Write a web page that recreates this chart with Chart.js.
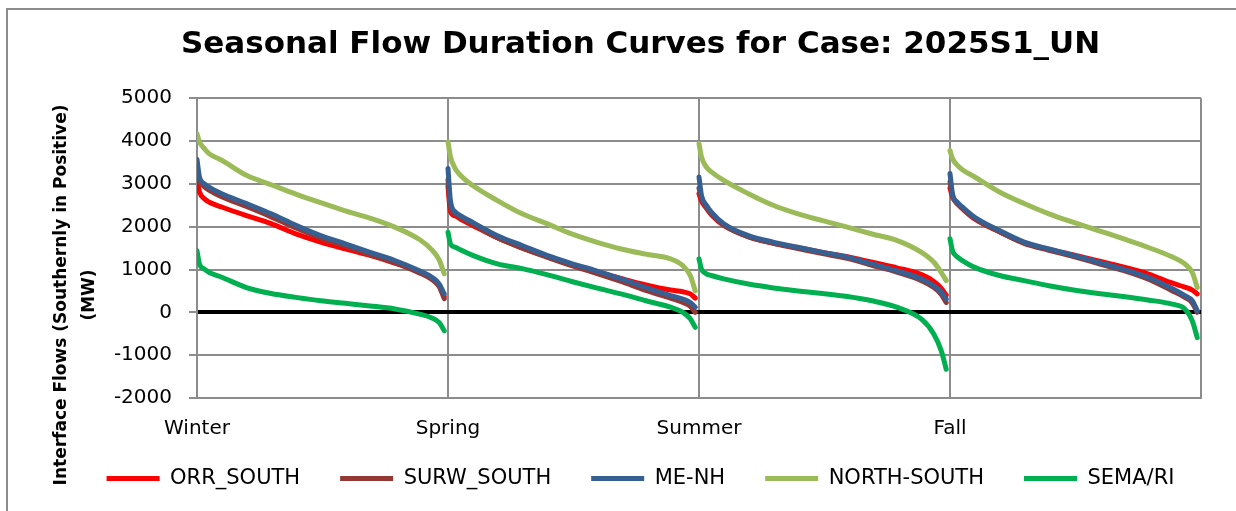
<!DOCTYPE html>
<html>

<head>
    <title>Seasonal Flow Duration Curves</title>
    <style>
        body {
            margin: 0;
            background: #fff;
        }

        #wrap {
            width: 1236px;
            height: 511px;
        }
    </style>
</head>

<body>
    <div id="wrap">
        <canvas id="flowChart" width="1236" height="511"></canvas>
    </div>

    <script src="https://cdn.jsdelivr.net/npm/chart.js"></script>
    <script>
        // season blocks on the x axis, each one is a duration curve
        var seasons = ['Winter', 'Spring', 'Summer', 'Fall'];
        // % of hours in the season (duration) where the values below were read
        var durationPct = [0, 1, 3, 5, 10, 20, 30, 40, 50, 60, 70, 80, 90, 95, 98, 100];
        var yTicks = [-2000, -1000, 0, 1000, 2000, 3000, 4000, 5000];

        // MW, one row per season (Winter, Spring, Summer, Fall)
        var orrSouth = [
            [3080, 2810, 2650, 2570, 2460, 2260, 2070, 1830, 1640, 1480, 1330, 1150, 940, 770, 610, 370],
            [2950, 2350, 2250, 2180, 2030, 1740, 1510, 1300, 1110, 950, 790, 640, 520, 480, 430, 330],
            [2770, 2600, 2430, 2280, 2030, 1770, 1620, 1510, 1400, 1300, 1170, 1040, 880, 720, 560, 400],
            [2900, 2700, 2530, 2420, 2180, 1880, 1620, 1470, 1340, 1200, 1060, 900, 680, 590, 520, 430]
        ];
        var surwSouth = [
            [3150, 3050, 2930, 2850, 2700, 2470, 2230, 1970, 1740, 1550, 1350, 1160, 920, 770, 600, 320],
            [3100, 2450, 2300, 2220, 2060, 1740, 1500, 1290, 1090, 910, 720, 510, 330, 230, 140, 0],
            [2900, 2680, 2450, 2300, 2040, 1760, 1610, 1490, 1370, 1260, 1100, 940, 740, 580, 420, 230],
            [3050, 2720, 2540, 2430, 2190, 1880, 1610, 1450, 1300, 1140, 980, 780, 500, 350, 220, 0]
        ];
        var meNh = [
            [3570, 3160, 3000, 2920, 2770, 2540, 2300, 2030, 1790, 1600, 1400, 1210, 970, 820, 660, 430],
            [3360, 2600, 2340, 2260, 2100, 1790, 1560, 1330, 1140, 970, 780, 580, 390, 310, 230, 120],
            [3160, 2730, 2500, 2340, 2070, 1790, 1640, 1520, 1400, 1290, 1130, 970, 780, 620, 470, 310],
            [3240, 2770, 2570, 2460, 2220, 1910, 1640, 1480, 1330, 1170, 1010, 820, 550, 390, 270, 40]
        ];
        var northSouth = [
            [4170, 3980, 3820, 3700, 3550, 3200, 2980, 2760, 2560, 2370, 2200, 1990, 1700, 1460, 1220, 900],
            [3980, 3630, 3350, 3200, 2960, 2610, 2300, 2070, 1830, 1640, 1480, 1360, 1250, 1090, 860, 500],
            [3940, 3630, 3390, 3280, 3080, 2770, 2500, 2300, 2140, 1990, 1830, 1680, 1400, 1170, 930, 740],
            [3780, 3590, 3430, 3330, 3160, 2810, 2540, 2300, 2100, 1910, 1720, 1520, 1290, 1130, 930, 580]
        ];
        var semaRi = [
            [1440, 1130, 1010, 930, 820, 580, 440, 350, 270, 210, 150, 80, -40, -130, -240, -430],
            [1870, 1600, 1520, 1460, 1330, 1130, 1020, 880, 720, 570, 430, 270, 120, 0, -150, -350],
            [1250, 1010, 900, 860, 780, 660, 570, 500, 440, 370, 270, 120, -160, -510, -900, -1330],
            [1720, 1440, 1290, 1210, 1050, 860, 740, 620, 520, 440, 370, 290, 190, 80, -200, -590]
        ];

        // each season takes one unit on the x axis, gap (null) between seasons
        function buildPoints(vals) {
            var pts = [];
            seasons.forEach(function (s, si) {
                durationPct.forEach(function (p, i) {
                    pts.push({ x: si + p / 100 * 0.985, y: vals[si][i] });
                });
                pts.push({ x: si + 0.993, y: null });
            });
            return pts;
        }

        function serie(label, vals, color, order) {
            return {
                label: label,
                data: buildPoints(vals),
                borderColor: color,
                backgroundColor: color,
                borderWidth: 5,
                pointRadius: 0,
                cubicInterpolationMode: 'monotone',
                spanGaps: false,
                borderCapStyle: 'round',
                borderJoinStyle: 'round',
                order: order
            };
        }

        var gridGray = '#8c8c8c';

        // gray frame round the chart (top and left visible in the picture)
        var framePlugin = {
            id: 'frame',
            beforeDraw: function (chart) {
                var ctx = chart.ctx;
                ctx.save();
                ctx.strokeStyle = gridGray;
                ctx.lineWidth = 2;
                ctx.beginPath();
                ctx.moveTo(7, 511);
                ctx.lineTo(7, 9);
                ctx.lineTo(1236, 9);
                ctx.stroke();
                ctx.restore();
            }
        };

        // x axis box is kept short so the legend sits close; let its labels draw below it
        var labelRoomPlugin = {
            id: 'labelRoom',
            afterLayout: function (chart) {
                chart.scales.x.bottom = chart.height;
            }
        };

        // y axis title, two lines, centered lower than the plot
        var yTitlePlugin = {
            id: 'yTitle',
            afterDraw: function (chart) {
                var ctx = chart.ctx;
                var lines = ['Interface Flows (Southernly in Positive)', '(MW)'];
                var xs = [62, 90];
                ctx.save();
                ctx.fillStyle = '#000';
                ctx.font = 'bold 17px "DejaVu Sans"';
                ctx.textAlign = 'center';
                ctx.textBaseline = 'middle';
                lines.forEach(function (t, i) {
                    ctx.save();
                    ctx.translate(xs[i], 295);
                    ctx.rotate(-Math.PI / 2);
                    ctx.fillText(t, 0, 0);
                    ctx.restore();
                });
                ctx.restore();
            }
        };

        Chart.defaults.font.family = '"DejaVu Sans", sans-serif';

        var flowChart = new Chart(document.getElementById('flowChart').getContext('2d'), {
            type: 'line',
            data: {
                datasets: [
                    serie('ORR_SOUTH', orrSouth, '#ff0000', 5),
                    serie('SURW_SOUTH', surwSouth, '#953735', 4),
                    serie('ME-NH', meNh, '#376092', 3),
                    serie('NORTH-SOUTH', northSouth, '#9bbb59', 2),
                    serie('SEMA/RI', semaRi, '#00b050', 1)
                ]
            },
            options: {
                responsive: false,
                animation: false,
                layout: {
                    padding: { left: 45, right: 0, top: 10, bottom: 12 }
                },
                plugins: {
                    title: {
                        display: true,
                        text: 'Seasonal Flow Duration Curves for Case: 2025S1_UN',
                        color: '#000',
                        font: { size: 31, weight: 'bold' },
                        padding: { top: 16, bottom: 35 }
                    },
                    legend: {
                        position: 'bottom',
                        labels: {
                            usePointStyle: true,
                            pointStyle: 'line',
                            pointStyleWidth: 53,
                            boxHeight: 5,
                            padding: 40,
                            color: '#000',
                            font: { size: 21 },
                            sort: function (a, b) { return a.datasetIndex - b.datasetIndex; }
                        }
                    },
                    tooltip: { enabled: false }
                },
                scales: {
                    x: {
                        type: 'linear',
                        min: 0,
                        max: seasons.length,
                        ticks: {
                            stepSize: 1,
                            autoSkip: false,
                            maxRotation: 0,
                            color: '#000',
                            font: { size: 20 },
                            padding: 19,
                            callback: function (v) { return seasons[v] || ''; }
                        },
                        grid: { color: gridGray, lineWidth: 2, drawTicks: false },
                        border: { color: gridGray, width: 2 },
                        afterFit: function (s) { s.height = 30; }
                    },
                    y: {
                        min: yTicks[0],
                        max: yTicks[yTicks.length - 1],
                        afterBuildTicks: function (s) {
                            s.ticks = yTicks.map(function (v) { return { value: v }; });
                        },
                        ticks: {
                            color: '#000',
                            font: { size: 20 },
                            padding: 17,
                            callback: function (v) { return String(v); }
                        },
                        grid: {
                            color: function (c) { return c.tick && c.tick.value === 0 ? '#000' : gridGray; },
                            lineWidth: function (c) { return c.tick && c.tick.value === 0 ? 4 : 2; },
                            tickColor: gridGray,
                            tickWidth: 2,
                            tickLength: 8
                        },
                        border: { color: gridGray, width: 2 },
                        afterFit: function (s) { s.width = 152; }
                    },
                    yRight: {
                        position: 'right',
                        min: 0,
                        max: 1,
                        grid: { display: false },
                        ticks: { display: false },
                        border: { display: false },
                        afterFit: function (s) { s.width = 35; }
                    }
                }
            },
            plugins: [framePlugin, labelRoomPlugin, yTitlePlugin]
        });
    </script>
</body>

</html>
